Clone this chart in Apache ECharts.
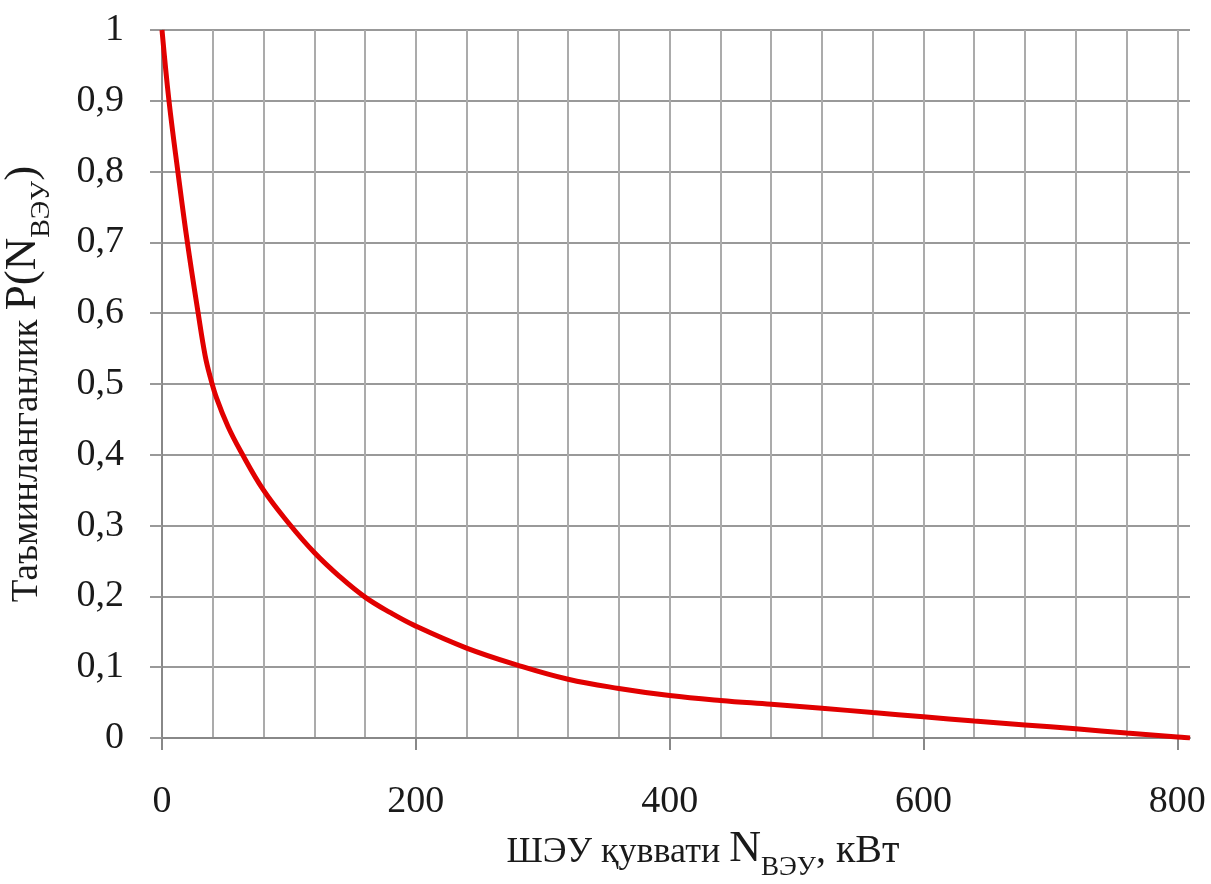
<!DOCTYPE html>
<html>
<head>
    <meta charset="utf-8">
    <title>Таъминланганлик</title>
    <style>
        * { margin: 0; padding: 0; }
        body { background: #fff; }
        #main { width: 1211px; height: 884px; }
    </style>
    <script src="https://cdn.jsdelivr.net/npm/echarts@6/dist/echarts.min.js"></script>
</head>
<body>
    <div id="main"></div>
    <script type="text/javascript">
        // мощность ШЭУ, кВт
        var powerKw = [0, 5.5, 12.5, 20, 28.5, 34, 38, 43, 52, 62, 80, 100, 120, 140, 160, 180, 200, 240, 280,
            320, 360, 400, 440, 480, 520, 560, 600, 640, 680, 720, 760, 800, 810];
        // обеспеченность P(N)
        var probability = [1, 0.9, 0.8, 0.7, 0.6, 0.54, 0.51, 0.48, 0.44, 0.405, 0.35, 0.303, 0.262, 0.228, 0.199,
            0.177, 0.158, 0.127, 0.103, 0.083, 0.07, 0.06, 0.053, 0.0476, 0.042, 0.036, 0.03, 0.024, 0.0185,
            0.013, 0.007, 0.0015, 0];
        var xLabelValues = [0, 200, 400, 600, 800];

        var font = 'Liberation Serif';
        var chart = echarts.init(document.getElementById('main'));

        var points = powerKw.map(function (x, i) { return [x, probability[i]]; });

        var option = {
            backgroundColor: '#fff',
            animation: false,
            grid: [
                { left: 162, right: 21, top: 30, bottom: 146, outerBoundsMode: 'none', containLabel: false },
                // сетка только для вертикальных линий 0..800
                { left: 162, right: 21 + 10 * 1028 / 810, top: 30, bottom: 146, outerBoundsMode: 'none', containLabel: false }
            ],
            xAxis: [{
                type: 'value',
                gridIndex: 0,
                min: 0,
                max: 810,
                interval: 200,
                name: '{t|ШЭУ қуввати }{b|N}{s|ВЭУ}{k|, кВт}',
                nameLocation: 'middle',
                nameGap: 89,
                nameTextStyle: {
                    color: '#1a1a1a',
                    padding: [0, 0, 0, 54],
                    rich: {
                        t: { fontFamily: font, fontSize: 36, color: '#1a1a1a', verticalAlign: 'bottom', padding: [0, 0, 10, 0] },
                        b: { fontFamily: font, fontSize: 44, color: '#1a1a1a', verticalAlign: 'bottom', padding: [0, 0, 10, 0] },
                        s: { fontFamily: font, fontSize: 27, color: '#1a1a1a', verticalAlign: 'bottom', padding: [0, 0, 0, 0] },
                        k: { fontFamily: font, fontSize: 40, color: '#1a1a1a', verticalAlign: 'bottom', padding: [0, 0, 10, 0] }
                    }
                },
                axisLine: { show: true, lineStyle: { color: '#888', width: 2 } },
                axisTick: { show: true, length: 12, customValues: xLabelValues, lineStyle: { color: '#888', width: 2 } },
                axisLabel: {
                    customValues: xLabelValues,
                    margin: 45,
                    color: '#1a1a1a',
                    fontFamily: font,
                    fontSize: 38
                },
                splitLine: { show: false }
            }, {
                type: 'value',
                gridIndex: 1,
                min: 0,
                max: 800,
                interval: 40,
                axisLine: { show: false },
                axisTick: { show: false },
                axisLabel: { show: false },
                splitLine: { show: true, lineStyle: { color: '#ababab', width: 2 } }
            }],
            yAxis: [{
                type: 'value',
                gridIndex: 0,
                min: 0,
                max: 1,
                interval: 0.1,
                name: '{t|Таъминланганлик }{b|P(N}{s|ВЭУ}{b|)}',
                nameLocation: 'middle',
                nameRotate: 90,
                nameGap: 106,
                nameTextStyle: {
                    color: '#1a1a1a',
                    rich: {
                        t: { fontFamily: font, fontSize: 37, color: '#1a1a1a', verticalAlign: 'bottom', padding: [0, 0, 10, 0] },
                        b: { fontFamily: font, fontSize: 45, color: '#1a1a1a', verticalAlign: 'bottom', padding: [0, 0, 10, 0] },
                        s: { fontFamily: font, fontSize: 28, color: '#1a1a1a', verticalAlign: 'bottom', padding: [0, 0, 0, 0] }
                    }
                },
                axisLine: { show: true, lineStyle: { color: '#888', width: 2 } },
                axisTick: { show: true, length: 12, lineStyle: { color: '#999', width: 2 } },
                axisLabel: {
                    margin: 38,
                    color: '#1a1a1a',
                    fontFamily: font,
                    fontSize: 38,
                    formatter: function (v) {
                        var r = Math.round(v * 10) / 10;
                        if (r === 0) return '0';
                        if (r === 1) return '1';
                        return r.toFixed(1).replace('.', ',');
                    }
                },
                splitLine: { show: true, lineStyle: { color: '#999', width: 2 } }
            }, {
                type: 'value',
                gridIndex: 1,
                min: 0,
                max: 1,
                show: false,
                splitLine: { show: false }
            }],
            series: [{
                type: 'line',
                xAxisIndex: 0,
                yAxisIndex: 0,
                data: points,
                smooth: 0.4,
                showSymbol: false,
                symbol: 'none',
                lineStyle: { color: '#e10000', width: 5 },
                z: 5
            }]
        };
        chart.setOption(option);
    </script>
</body>
</html>
